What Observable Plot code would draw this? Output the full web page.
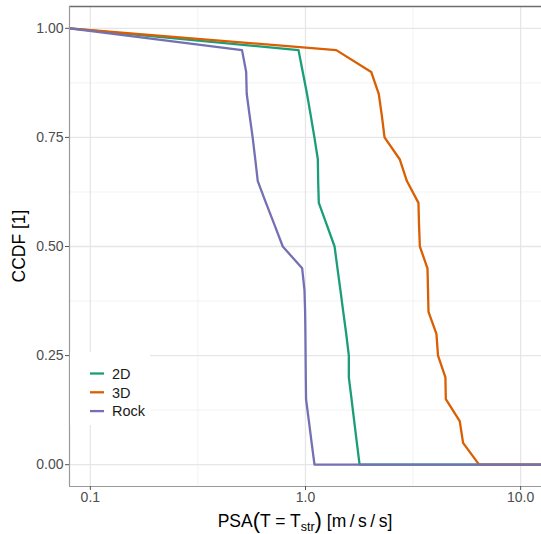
<!DOCTYPE html>
<html><head><meta charset="utf-8">
<script src="https://cdn.jsdelivr.net/npm/d3@7"></script>
<script src="https://cdn.jsdelivr.net/npm/@observablehq/plot@0.6"></script>
<style>body{margin:0;background:#fff} svg{display:block}</style>
</head><body><div id="chart"></div>
<script>
const series = ["2D", "3D", "Rock"];
const colors = ["#1B9E77", "#D95F02", "#7570B3"];

const x2D = [0.08, 0.928, 0.971, 1.016, 1.058, 1.100, 1.141, 1.145, 1.153, 1.255, 1.365, 1.408, 1.453, 1.498, 1.546, 1.59, 1.59, 1.637, 1.684, 1.733, 1.784, 12.5];
const y2D = [1.00, 0.95, 0.90, 0.85, 0.80, 0.75, 0.70, 0.65, 0.60, 0.55, 0.50, 0.45, 0.40, 0.35, 0.30, 0.25, 0.20, 0.15, 0.10, 0.05, 0.00, 0.00];

const x3D = [0.08, 1.39, 2.02, 2.19, 2.264, 2.33, 2.74, 2.96, 3.35, 3.37, 3.40, 3.69, 3.71, 3.73, 4.06, 4.13, 4.47, 4.49, 5.21, 5.40, 6.41, 12.5];
const y3D = [1.00, 0.95, 0.90, 0.85, 0.80, 0.75, 0.70, 0.65, 0.60, 0.55, 0.50, 0.45, 0.40, 0.35, 0.30, 0.25, 0.20, 0.15, 0.10, 0.05, 0.00, 0.00];

const xRock = [0.08, 0.507, 0.530, 0.533, 0.550, 0.568, 0.584, 0.600, 0.655, 0.717, 0.784, 0.965, 0.989, 0.996, 0.999, 1.001, 1.003, 1.006, 1.037, 1.068, 1.101, 12.5];
const yRock = [1.00, 0.95, 0.90, 0.85, 0.80, 0.75, 0.70, 0.65, 0.60, 0.55, 0.50, 0.45, 0.40, 0.35, 0.30, 0.25, 0.20, 0.15, 0.10, 0.05, 0.00, 0.00];

const xTicks = [0.1, 1, 10];
const xTickLabels = ["0.1", "1.0", "10.0"];
const xMinor = [0.3162, 3.162];
const yTicks = [0, 0.25, 0.5, 0.75, 1];
const yTickLabels = ["0.00", "0.25", "0.50", "0.75", "1.00"];
const yMinor = [0.125, 0.375, 0.625, 0.875];

const xs = [x2D, x3D, xRock];
const ys = [y2D, y3D, yRock];
const data = [];
series.forEach((s, k) => xs[k].forEach((x, i) => data.push({series: s, x, y: ys[k][i]})));

const font = "'Liberation Sans', Arial, Helvetica, sans-serif";
const plot = Plot.plot({
  width: 541, height: 534,
  marginLeft: 69, marginRight: 0, marginTop: 6, marginBottom: 48,
  style: {fontFamily: font, background: "#fff", overflow: "visible"},
  x: {type: "log", domain: [0.08, 12.5]},
  y: {domain: [-0.05, 1.05]},
  color: {domain: series, range: colors},
  marks: [
    Plot.gridX(xMinor, {stroke: "#f2f2f2", strokeOpacity: 1, strokeWidth: 1}),
    Plot.gridY(yMinor, {stroke: "#f2f2f2", strokeOpacity: 1, strokeWidth: 1}),
    Plot.gridX(xTicks, {stroke: "#e6e6e6", strokeOpacity: 1, strokeWidth: 1.3}),
    Plot.gridY(yTicks, {stroke: "#e6e6e6", strokeOpacity: 1, strokeWidth: 1.3}),
    Plot.line(data, {x: "x", y: "y", z: "series", stroke: "series", strokeWidth: 2.3, clip: true}),
    Plot.ruleY([1.05], {stroke: "#6e6e6e", strokeWidth: 1.3}),
    Plot.ruleX([0.08], {stroke: "#9a9a9a", strokeWidth: 1.2}),
    Plot.ruleY([-0.05], {stroke: "#9a9a9a", strokeWidth: 1.2}),
    Plot.axisX({ticks: xTicks, tickFormat: d => xTickLabels[xTicks.indexOf(d)], tickSize: 4, tickPadding: 2,
      fontSize: 14, color: "#4d4d4d", stroke: "#555", label: null}),
    Plot.axisY({ticks: yTicks, tickFormat: d => yTickLabels[yTicks.indexOf(d)], tickSize: 4, tickPadding: 2,
      fontSize: 14, color: "#4d4d4d", stroke: "#555", label: null})
  ]
});
document.getElementById("chart").appendChild(plot);

const svg = d3.select(plot);
// legend
const lg = svg.append("g").attr("font-family", font).attr("text-anchor", "start");
lg.append("rect").attr("x", 70).attr("y", 352).attr("width", 80).attr("height", 73).attr("fill", "#fff");
series.forEach((s, i) => {
  const yy = 373.5 + i * 18.8;
  lg.append("line").attr("x1", 90).attr("x2", 104).attr("y1", yy).attr("y2", yy)
    .attr("stroke", colors[i]).attr("stroke-width", 2.3);
  lg.append("text").attr("x", 112).attr("y", yy).attr("dy", "0.36em").attr("text-anchor", "start")
    .attr("font-size", 14.5).attr("fill", "#1a1a1a").text(s);
});
// y title
svg.append("text").attr("transform", "translate(25,246) rotate(-90)")
  .attr("text-anchor", "middle").attr("font-family", font).attr("font-size", 17.5).attr("fill", "#000")
  .text("CCDF [1]");
// x title
const xt = svg.append("text").attr("x", 305).attr("y", 527).attr("text-anchor", "middle")
  .attr("font-family", font).attr("font-size", 17.5).attr("fill", "#000");
xt.append("tspan").text("PSA");
xt.append("tspan").attr("font-size", 22).attr("dy", 1).text("(");
xt.append("tspan").attr("font-size", 17.5).attr("dy", -1).text("T = T");
xt.append("tspan").attr("font-size", 12.5).attr("dy", 4).text("str");
xt.append("tspan").attr("font-size", 22).attr("dy", -3).text(")");
xt.append("tspan").attr("font-size", 17.5).attr("dy", -1).text(" [m\u2009/\u2009s\u2009/\u2009s]");
</script></body></html>
